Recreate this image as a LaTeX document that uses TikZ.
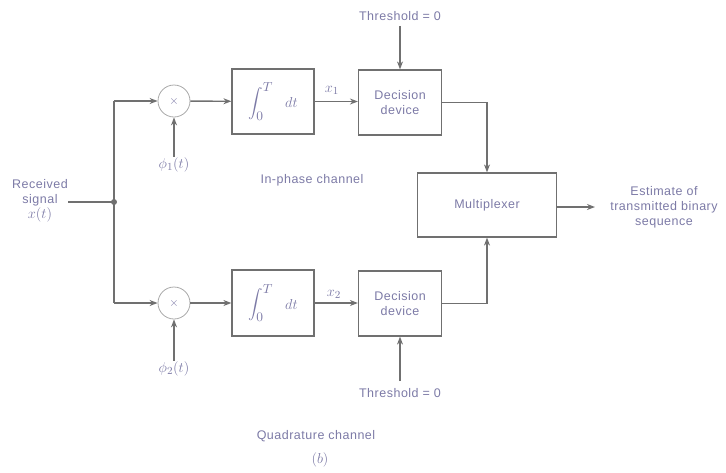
\documentclass[tikz,border=0pt]{standalone}
\usepackage{graphicx}
\usepackage{fontspec}
\setmainfont[LetterSpace=4]{Liberation Sans}
\usetikzlibrary{arrows.meta}
\definecolor{ln}{HTML}{707070}
\definecolor{tx}{HTML}{7C7AA6}
\newcommand{\myint}{\scalebox{1.45}{$\displaystyle\int_0^T$}\hspace{12pt}\scalebox{1.2}{$dt$}}
\newcommand{\mth}[1]{\scalebox{1.2}{$#1$}}
\begin{document}
\begin{tikzpicture}[x=1pt,y=-1pt,
  lbl/.style={text=tx,font=\fontsize{12.5}{15}\selectfont,inner sep=1pt,align=center},
  blk/.style={draw=ln,line width=1.2pt,rectangle,text=tx,font=\fontsize{12.5}{15}\selectfont,align=center,inner sep=0pt},
  mult/.style={draw=ln!60,line width=0.8pt,circle,minimum size=32pt,inner sep=0pt,text=tx},
  conn/.style={draw=ln,line width=1.4pt},
  arr/.style={conn,-{Stealth[length=8pt,width=6pt]}}]
\useasboundingbox (0,0) rectangle (726,472);
% input
\node[lbl] (recv) at (40,201) {Received\\signal\\\mth{x(t)}};
\coordinate (in) at (68,202);
\coordinate (J) at (114,202);
\fill[ln] (J) circle (3);
\coordinate (ta) at (114,101);
\coordinate (ba) at (114,303);
% top branch
\node[mult] (m1) at (174,101) {\mth{\times}};
\node[lbl] (phi1) at (174,165) {\mth{\phi_1(t)}};
\node[blk,minimum width=82pt,minimum height=65pt] (int1) at (273,101.5) {\myint};
\node[blk,minimum width=83pt,minimum height=65pt] (dd1) at (400,102.5) {Decision\\device};
\node[lbl] (th1) at (400,16) {Threshold = 0};
\node[lbl] (x1) at (332,90) {\mth{x_1}};
% bottom branch
\node[mult] (m2) at (174,303) {\mth{\times}};
\node[lbl] (phi2) at (174,369) {\mth{\phi_2(t)}};
\node[blk,minimum width=82pt,minimum height=66pt] (int2) at (273,303) {\myint};
\node[blk,minimum width=83pt,minimum height=65pt] (dd2) at (400,303.5) {Decision\\device};
\node[lbl] (th2) at (400,393) {Threshold = 0};
\node[lbl] (x2) at (334,294) {\mth{x_2}};
% multiplexer
\node[blk,minimum width=139pt,minimum height=64pt] (mux) at (487,205) {Multiplexer};
\coordinate (out) at (595,207);
\node[lbl] (est) at (664,207) {Estimate of\\transmitted binary\\sequence};
% labels
\node[lbl] (ip) at (312,180) {In-phase channel};
\node[lbl] (qc) at (316,436) {Quadrature channel};
\node[lbl] (b) at (320,460) {\mth{(b)}};
% connectors
\draw[conn] (in) -- (J);
\draw[conn] (ta) -- (ba);
\draw[arr] (ta) -- (m1);
\draw[arr] (ba) -- (m2);
\draw[arr] (phi1) -- (m1);
\draw[arr] (phi2) -- (m2);
\draw[arr] (m1) -- (int1);
\draw[arr] (m2) -- (int2);
\draw[arr] (int1.east) -- (dd1.west |- int1.east);
\draw[arr] (int2.east) -- (dd2.west |- int2.east);
\draw[arr] ([yshift=-4]th1.south) -- (dd1.north);
\draw[arr] ([yshift=6]th2.north) -- (dd2.south);
\draw[arr] (dd1.east) -| (mux.north);
\draw[arr] (dd2.east) -| (mux.south);
\draw[arr] (mux.east |- out) -- (out);
\end{tikzpicture}
\end{document}
